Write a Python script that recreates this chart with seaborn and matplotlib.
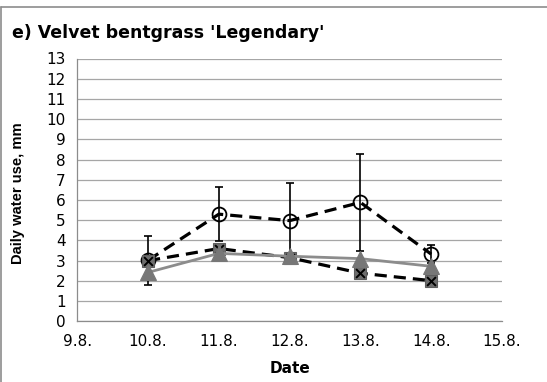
import matplotlib
matplotlib.use("Agg")
import matplotlib.pyplot as plt
from matplotlib.lines import Line2D
import seaborn as sns
import pandas as pd

# ---- data ----
days = [10, 11, 12, 13, 14]
x_tick_values = [9, 10, 11, 12, 13, 14, 15]
x_tick_labels = ["9.8.", "10.8.", "11.8.", "12.8.", "13.8.", "14.8.", "15.8."]
y_ticks = list(range(0, 14))

circle_vals = [3.02, 5.30, 4.98, 5.88, 3.32]
circle_err = [1.21, 1.33, 1.85, 2.39, 0.44]
cross_vals = [3.00, 3.60, 3.15, 2.38, 2.01]
tri_vals = [2.42, 3.36, 3.22, 3.10, 2.72]

title = "e) Velvet bentgrass 'Legendary'"
xlabel = "Date"
ylabel = "Daily water use, mm"

sns.set_style("white")
plt.rcParams["font.family"] = ["DejaVu Sans"]
plt.rcParams["text.color"] = "black"
plt.rcParams["axes.labelcolor"] = "black"
plt.rcParams["xtick.labelcolor"] = "black"
plt.rcParams["ytick.labelcolor"] = "black"

W, H = 547, 382
fig = plt.figure(figsize=(W / 100, H / 100), dpi=100)
left, right, top, bottom = 77.3, 502.0, 58.5, 321.3
ax = fig.add_axes([left / W, 1 - bottom / H, (right - left) / W, (bottom - top) / H])

df_c = pd.DataFrame({"day": days, "val": circle_vals})
df_x = pd.DataFrame({"day": days, "val": cross_vals})
df_t = pd.DataFrame({"day": days, "val": tri_vals})

grid_col = "#a6a6a6"
ax.set_axisbelow(True)
ax.yaxis.grid(True, color=grid_col, lw=0.9)
ax.xaxis.grid(False)

# error bars (circle series)
ax.errorbar(days, circle_vals, yerr=circle_err, fmt="none", ecolor="black",
            elinewidth=1.2, capsize=3, capthick=1.2, zorder=2)

# circle series
sns.lineplot(data=df_c, x="day", y="val", ax=ax, color="black", lw=2.3,
             marker="o", markersize=10, markerfacecolor="none",
             markeredgecolor="black", markeredgewidth=1.3, errorbar=None, zorder=3)
ax.lines[-1].set_dashes((3.8, 2.2))

# cross series
sns.lineplot(data=df_x, x="day", y="val", ax=ax, color="black", lw=2.3,
             marker="s", markersize=8, markerfacecolor="#6e6e6e",
             markeredgecolor="#5e5e5e", markeredgewidth=0.8, errorbar=None, zorder=4)
ax.lines[-1].set_dashes((3.8, 2.2))
sns.scatterplot(data=df_x, x="day", y="val", ax=ax, marker="x", s=40,
                color="black", linewidth=1.4, zorder=5)

# triangle series
sns.lineplot(data=df_t, x="day", y="val", ax=ax, color="#8c8c8c", lw=2.0,
             marker="^", markersize=11, markerfacecolor="#777777",
             markeredgecolor="#777777", errorbar=None, zorder=6)

ax.set_xlim(9, 15)
ax.set_ylim(0, 13)
ax.set_xticks(x_tick_values)
ax.set_xticklabels(x_tick_labels)
ax.set_yticks(y_ticks)
ax.tick_params(axis="both", labelsize=11, colors="#8c8c8c", labelcolor="black",
               length=4.5, width=0.9, direction="out")
ax.tick_params(axis="x", pad=5)
ax.tick_params(axis="y", pad=4)
for s in ["top", "right"]:
    ax.spines[s].set_visible(False)
for s in ["left", "bottom"]:
    ax.spines[s].set_color("#8c8c8c")
    ax.spines[s].set_linewidth(0.9)

ax.set_xlabel(xlabel, fontsize=11, fontweight="bold", labelpad=8, color="black")
ax.set_ylabel("")
fig.text(18 / W, 1 - 193 / H, ylabel, rotation=90, ha="center", va="center",
         fontsize=10.6, fontweight="bold", family=["Liberation Sans"], color="black")
fig.text(12 / W, 1 - 33 / H, title, ha="left", va="center",
         fontsize=12.5, fontweight="bold", color="black")

# outer frame
fig.add_artist(Line2D([1 / W, 1], [1 - 7 / H, 1 - 7 / H], transform=fig.transFigure,
                      color="#8c8c8c", lw=1.2))
fig.add_artist(Line2D([1 / W, 1 / W], [0, 1 - 7 / H], transform=fig.transFigure,
                      color="#8c8c8c", lw=1.2))

fig.savefig("out.png", dpi=100)
